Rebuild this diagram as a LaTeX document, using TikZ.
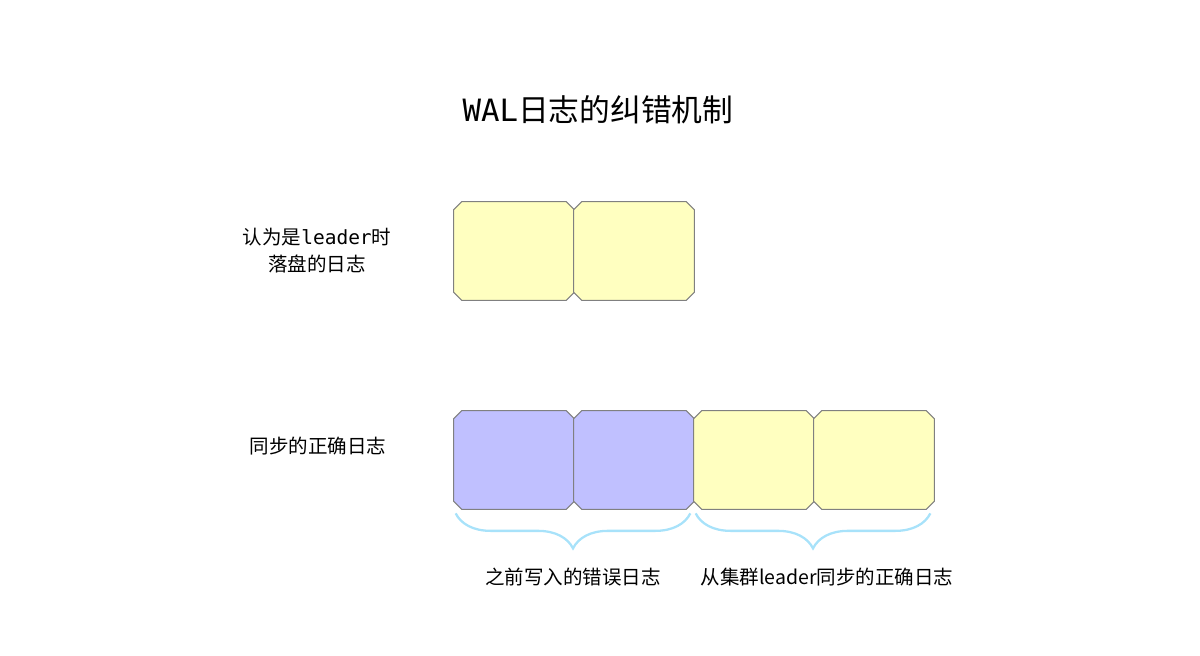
\documentclass[tikz,border=0pt]{standalone}
\usepackage{fontspec}
\newfontfamily\cjk{Noto Sans CJK SC}
\newfontfamily\monofont{DejaVu Sans Mono}
\usepackage{tikz}
\usetikzlibrary{decorations.pathreplacing}

\definecolor{logyellow}{HTML}{FFFFC0}
\definecolor{logpurple}{HTML}{C0C0FF}
\definecolor{logedge}{HTML}{808080}
\definecolor{bracecol}{HTML}{A8E2FA}

\def\cham{0.16cm}
\tikzset{
  logbox/.style={rectangle, minimum width=2.4cm, minimum height=1.96cm, inner sep=0pt,
    append after command={\pgfextra{\let\boxnode\tikzlastnode
      \draw[draw=logedge, fill=#1, line width=0.6pt]
        ([xshift=\cham]\boxnode.north west) -- ([xshift=-\cham]\boxnode.north east)
        -- ([yshift=-\cham]\boxnode.north east) -- ([yshift=\cham]\boxnode.south east)
        -- ([xshift=-\cham]\boxnode.south east) -- ([xshift=\cham]\boxnode.south west)
        -- ([yshift=\cham]\boxnode.south west) -- ([yshift=-\cham]\boxnode.north west)
        -- cycle;}}},
  label/.style={font=\cjk\fontsize{11.1}{15.3}\selectfont, align=center},
  brace/.style={draw=bracecol, line width=1.3pt,
    decorate, decoration={brace, amplitude=0.7cm, mirror}}
}

\begin{document}
\begin{tikzpicture}
    \useasboundingbox (0,0) rectangle (24,-13.1);

    \node[font=\cjk\fontsize{17.5}{20}\selectfont] (title) at (11.96,-2.2) {{\monofont WAL}日志的纠错机制};

    % logs written while it thought it was leader
    \node[label] (oldtext) at (6.34,-5.02) {认为是{\monofont leader}时\\落盘的日志};
    \node[logbox=logyellow] (old1) at (10.28,-5.02) {};
    \node[logbox=logyellow] (old2) at (12.68,-5.02) {};

    % logs after sync
    \node[label] (newtext) at (6.36,-8.92) {同步的正确日志};
    \node[logbox=logpurple] (bad1) at (10.28,-9.2) {};
    \node[logbox=logpurple] (bad2) at (12.68,-9.2) {};
    \node[logbox=logyellow] (good1) at (15.08,-9.2) {};
    \node[logbox=logyellow] (good2) at (17.48,-9.2) {};

    \draw[brace] ([shift={(0.04,-0.08)}]bad1.south west) -- ([shift={(-0.08,-0.08)}]bad2.south east);
    \draw[brace] ([shift={(0.04,-0.08)}]good1.south west) -- ([shift={(-0.08,-0.08)}]good2.south east);

    \node[label] (badtext) at (11.46,-11.54) {之前写入的错误日志};
    \node[label] (goodtext) at (16.54,-11.54) {从集群leader同步的正确日志};
  \end{tikzpicture}
\end{document}
